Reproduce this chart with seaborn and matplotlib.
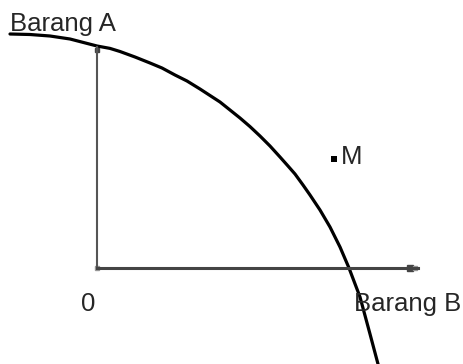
import numpy as np
import pandas as pd
import matplotlib
matplotlib.use('Agg')
import matplotlib.pyplot as plt
import seaborn as sns

# production possibility curve (origin = corner of the axes)
curve_x = [-87, -67, -47, -27, 0, 13, 23, 38, 53, 65, 78, 90, 103, 113, 123, 133, 143, 153,
           163, 173, 183, 191, 198, 206, 213, 223, 233, 243, 252, 263, 273, 281, 284]
curve_y = [234, 233.5, 232, 229, 222, 219.6, 216.5, 211, 205, 200, 193, 187, 179, 172.5, 166, 158, 150, 141.4,
           132, 122, 111, 102, 94, 83, 73, 58, 41, 21, 0, -29, -66, -96, -112]

# point M
point_x = [237]
point_y = [109]

x_axis_end = 321
y_axis_end = 221
x_label = 'Barang B'
y_label = 'Barang A'
origin_label = '0'
point_label = 'M'

df = pd.DataFrame({'x': curve_x, 'y': curve_y})
pts = pd.DataFrame({'x': point_x, 'y': point_y})

sns.set_style('white')
plt.rcParams['font.family'] = ['Liberation Sans', 'DejaVu Sans']

fig = plt.figure(figsize=(4.63, 3.64), dpi=100)
ax = fig.add_axes([0, 0, 1, 1])
ax.set_xlim(-97, 366)
ax.set_ylim(-96, 268)

# axes drawn as spines through the origin
for s in ['top', 'right']:
    ax.spines[s].set_visible(False)
ax.spines['left'].set_position(('data', 0))
ax.spines['bottom'].set_position(('data', 0))
ax.spines['left'].set_bounds(0, y_axis_end)
ax.spines['bottom'].set_bounds(0, x_axis_end)
ax.spines['left'].set_color('#555555')
ax.spines['left'].set_linewidth(1.5)
ax.spines['bottom'].set_color('#444444')
ax.spines['bottom'].set_linewidth(2.2)
ax.set_xticks([])
ax.set_yticks([])

# little end caps on the axes
ax.plot([0], [y_axis_end - 3], marker='s', ms=3.5, color='#444444', ls='none')
ax.plot([x_axis_end - 8], [0], marker='s', ms=4, color='#444444', ls='none')
ax.plot([x_axis_end - 3], [0], marker='s', ms=3, color='#999999', ls='none')
ax.plot([0], [0], marker='s', ms=2.5, color='#999999', ls='none')

sns.lineplot(data=df, x='x', y='y', sort=False, color='black', linewidth=2.3,
             solid_joinstyle='round', solid_capstyle='round', ax=ax)
sns.scatterplot(data=pts, x='x', y='y', marker='s', s=22, color='black', edgecolor='none', ax=ax)

ax.set_xlabel('')
ax.set_ylabel('')

fs = 18.5
ax.text(-87, 237, y_label, fontsize=fs, ha='left', va='baseline')
ax.text(-9, -24, origin_label, fontsize=fs, ha='center', va='top')
ax.text(257, -24, x_label, fontsize=fs, ha='left', va='top')
ax.text(point_x[0] + 7, point_y[0] + 2, point_label, fontsize=fs, ha='left', va='center')

plt.savefig('out.png', dpi=100)
